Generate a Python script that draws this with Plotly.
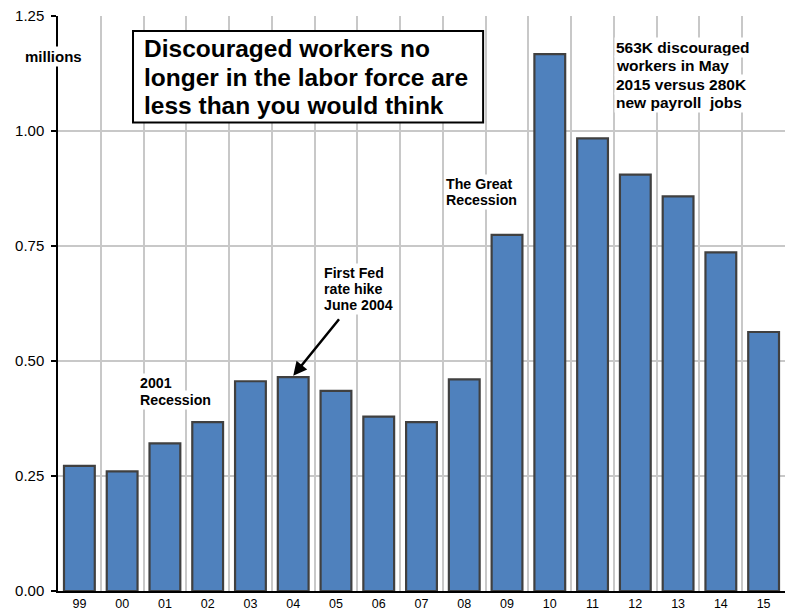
import plotly.graph_objects as go

years = ["99", "00", "01", "02", "03", "04", "05", "06", "07", "08",
         "09", "10", "11", "12", "13", "14", "15"]
discouraged = [0.272, 0.260, 0.321, 0.367, 0.456, 0.465, 0.435, 0.379, 0.367, 0.460,
               0.774, 1.167, 0.984, 0.905, 0.858, 0.736, 0.563]
y_ticks = [0, 0.25, 0.5, 0.75, 1.0, 1.25]

title_lines = ["Discouraged workers no", "longer in the labor force are", "less than you would think"]
note_2015 = ["563K discouraged", "workers in May", "2015 versus 280K", "new payroll  jobs"]
note_great = ["The Great", "Recession"]
note_2001 = ["2001", "Recession"]
note_fed = ["First Fed", "rate hike", "June 2004"]

FONT = "Arial, Liberation Sans, sans-serif"

fig = go.Figure()
fig.add_trace(go.Bar(
    x=list(range(len(years))), y=discouraged,
    marker=dict(color="#4F81BD", line=dict(color="#404040", width=2.2)),
    width=0.72, showlegend=False, hoverinfo="y",
))


def multiline(lines, x, y, size, spacing, bg="white"):
    for i, t in enumerate(lines):
        fig.add_annotation(
            text=f"<b>{t}</b>", x=x, y=y, xref="x", yref="y",
            xanchor="left", yanchor="middle", yshift=-i * spacing,
            showarrow=False, align="left", bgcolor=bg, borderpad=1,
            font=dict(family=FONT, size=size, color="black"),
        )


# title box
fig.add_shape(type="rect", xref="x", yref="y", x0=1.254, x1=9.441, y0=1.0184, y1=1.2175,
              fillcolor="white", line=dict(color="black", width=2), layer="above")
multiline(title_lines, 1.47, 1.1786, 24.5, 28.5, bg="rgba(0,0,0,0)")

multiline(note_2015, 12.50, 1.1814, 15.5, 18.4)
multiline(note_great, 8.52, 0.8857, 14.2, 16)
multiline(note_2001, 1.36, 0.4513, 14.2, 17)
multiline(note_fed, 5.67, 0.6922, 14.2, 16.2)

# arrow to 2004 bar
fig.add_annotation(
    x=5, y=discouraged[5] + 0.003, xref="x", yref="y",
    ax=6.1, ay=0.594, axref="x", ayref="y",
    showarrow=True, arrowhead=2, arrowsize=1.1, arrowwidth=2.5, arrowcolor="black", text="",
)

# units label
fig.add_annotation(
    text="<b>millions</b>", x=-0.006, y=1.161, xref="paper", yref="y",
    xanchor="center", yanchor="middle", showarrow=False, bgcolor="white",
    font=dict(family=FONT, size=15, color="black"),
)

fig.update_layout(
    width=791, height=611,
    margin=dict(l=58, r=6, t=16, b=20),
    paper_bgcolor="white", plot_bgcolor="white",
    font=dict(family=FONT, color="black"),
    bargap=0.28,
)
fig.update_xaxes(
    type="linear", range=[-0.5, len(years) - 0.5], automargin=False,
    tickmode="array", tickvals=list(range(len(years))), ticktext=years,
    showgrid=False, showline=True, linecolor="black", linewidth=1.5,
    ticks="", tickfont=dict(size=12.5, family=FONT), zeroline=False,
    ticklabelstandoff=0,
)
# vertical gridlines at category boundaries via minor ticks
fig.update_xaxes(minor=dict(tickmode="array", tickvals=[i - 0.5 for i in range(len(years) + 1)],
                            showgrid=True, gridcolor="#c8c8c8", gridwidth=1.5))
fig.update_yaxes(
    range=[0, 1.25], tickmode="array", tickvals=y_ticks, tickformat=".2f", automargin=False,
    showgrid=True, gridcolor="#c8c8c8", gridwidth=1.5,
    showline=True, linecolor="black", linewidth=1.5,
    ticks="outside", ticklen=5, tickcolor="black", tickwidth=1.5,
    tickfont=dict(size=15, family=FONT), zeroline=False, ticklabelstandoff=4,
)

fig.write_html("out.html")
